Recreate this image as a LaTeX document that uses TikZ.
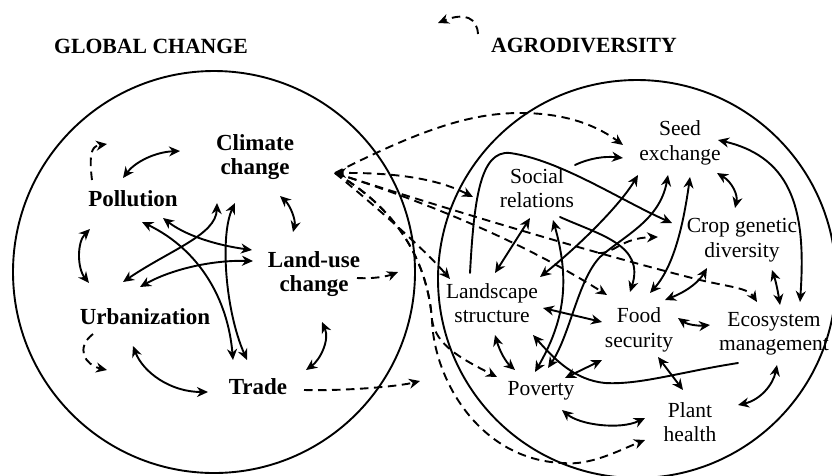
\documentclass[tikz,border=0pt]{standalone}
\usepackage{fontspec}
\setmainfont{Liberation Serif}
\usetikzlibrary{arrows.meta,calc}
\tikzset{
  bnode/.style={font=\bfseries\fontsize{23}{24.5}\selectfont, align=center, inner sep=0pt},
  rnode/.style={font=\fontsize{21.5}{24.5}\selectfont, align=center, inner sep=0pt},
  titletext/.style={font=\bfseries\fontsize{21.7}{24}\selectfont, inner sep=0pt},
  ln/.style={line width=1.9pt, line cap=round},
  tip/.tip={Stealth[length=11pt,width=10pt,inset=3.5pt]},
  uni/.style={ln, -tip},
  bi/.style={ln, tip-tip},
  dsh/.style={ln, line cap=butt, dash pattern=on 8.5pt off 5.5pt, -tip},
}
\begin{document}
\begin{tikzpicture}[x=1pt,y=-1pt]
\useasboundingbox (0,0) rectangle (832,475);
\fill[white] (0,0) rectangle (832,475);
% circles
\draw[line width=1.9pt] (214,272) circle[radius=201pt];
\draw[line width=1.9pt] (637,279) circle[radius=199pt];
% titles
\node[titletext] (gc) at (151,46) {GLOBAL CHANGE};
\node[titletext] (agro) at (584,45) {AGRODIVERSITY};
% left nodes
\node[bnode] (clim) at (255,157) {Climate\\change};
\node[bnode] (poll) at (133,199) {Pollution};
\node[bnode] (land) at (314,274) {Land-use\\change};
\node[bnode] (urb) at (145,317) {Urbanization};
\node[bnode] (trade) at (258,387) {Trade};
% right nodes
\node[rnode] (seed) at (680,143) {Seed\\exchange};
\node[rnode] (soc) at (537,188) {Social\\relations};
\node[rnode] (crop) at (742,240) {Crop genetic\\diversity};
\node[rnode] (landsc) at (492,303) {Landscape\\structure};
\node[rnode] (food) at (639,330) {Food\\security};
\node[rnode] (eco) at (774,334) {Ecosystem\\management};
\node[rnode] (pov) at (541,391) {Poverty};
\node[rnode] (plant) at (690,422) {Plant\\health};
% free coordinates
\coordinate (hub) at (335,173);
\coordinate (lfree) at (398,272);
\coordinate (tfree) at (420,381);
\coordinate (br) at (598,253);
\coordinate (topfree) at (438,23);

% ---- left circle connectors
\draw[dsh] ($(poll)+(-41,-19)$) .. controls (88,148) and (94,146) .. ($(poll)+(-26,-55)$);
\draw[bi] ($(poll)+(-10,-21)$) .. controls (135,162) and (155,152) .. ($(clim)+(-75,-6)$);
\draw[bi] ($(clim)+(25,39)$) .. controls (290,205) and (296,220) .. ($(land)+(-21,-42)$);
\draw[bi] ($(poll)+(-43,30)$) .. controls (77,242) and (77,268) .. ($(urb)+(-56,-34)$);
\draw[bi] ($(poll)+(9,23)$) .. controls (200,250) and (228,300) .. ($(trade)+(-25,-27)$);
\draw[bi] ($(poll)+(30,19)$) .. controls (185,235) and (215,245) .. ($(land)+(-62,-24)$);
\draw[bi] ($(clim)+(-38,46)$) .. controls (216,235) and (170,250) .. ($(urb)+(-22,-35)$);
\draw[bi] ($(clim)+(-20,46)$) .. controls (220,235) and (225,310) .. ($(trade)+(-11,-27)$);
\draw[bi] ($(urb)+(-5,-30)$) .. controls (170,270) and (210,260) .. ($(land)+(-61,-13)$);
\draw[bi] ($(urb)+(-12,29)$) .. controls (143,372) and (170,392) .. ($(trade)+(-50,5)$);
\draw[bi] ($(land)+(8,48)$) .. controls (330,340) and (320,360) .. ($(trade)+(48,-17)$);
\draw[dsh] ($(urb)+(-52,17)$) .. controls (75,348) and (85,365) .. ($(urb)+(-38,53)$);
\draw[dsh] ($(land)+(43,4)$) .. controls (375,279) and (388,276) .. (lfree);
\draw[dsh] ($(trade)+(46,3)$) .. controls (350,391) and (400,386) .. (tfree);

% ---- hub dashed connectors
\draw[ln, -tip] ($(hub)+(7,0)$) -- (hub);
\draw[dsh] (hub) .. controls (420,130) and (470,113) .. (520,113) .. controls (570,113) and (600,128) .. ($(seed)+(-57,2)$);
\draw[dsh] (hub) .. controls (400,172) and (440,180) .. ($(soc)+(-64,9)$);
\draw[dsh] (hub) .. controls (450,210) and (600,255) .. (700,280) .. controls (730,287) and (748,288) .. ($(eco)+(-17,-32)$);
\draw[dsh] (hub) .. controls (420,200) and (520,240) .. ($(food)+(-32,-35)$);
\draw[dsh] (br) .. controls (615,254) and (620,238) .. ($(crop)+(-84,-3)$);
\draw[dsh] (hub) .. controls (380,210) and (425,250) .. ($(landsc)+(-42,-24)$);
\draw[dsh] (hub) .. controls (400,210) and (428,265) .. (432,320) .. controls (434,380) and (480,460) .. (563,463) .. controls (590,466) and (620,450) .. ($(plant)+(-45,18)$);
\draw[dsh] (hub) .. controls (400,210) and (428,265) .. (432,320) .. controls (436,345) and (460,358) .. ($(pov)+(-44,-14)$);
\draw[dsh] ($(agro)+(-106,-11)$) .. controls (477,18) and (465,12) .. (topfree);

% ---- right circle connectors
\draw[uni] ($(landsc)+(-22,-30)$) .. controls (474,200) and (480,150) .. (510,153) .. controls (560,160) and (620,200) .. ($(crop)+(-70,-17)$);
\draw[uni] ($(soc)+(38,-23)$) .. controls (590,158) and (605,156) .. ($(seed)+(-57,15)$);
\draw[bi] ($(soc)+(-7,30)$) -- ($(landsc)+(3,-30)$);
\draw[bi] ($(landsc)+(48,-26)$) .. controls (580,245) and (620,205) .. ($(seed)+(-42,32)$);
\draw[bi] ($(pov)+(7,-23)$) .. controls (570,335) and (578,280) .. (600,257) .. controls (625,235) and (660,220) .. ($(seed)+(-12,32)$);
\draw[bi] ($(pov)+(-6,-19)$) .. controls (565,320) and (570,280) .. ($(soc)+(16,32)$);
\draw[bi] ($(seed)+(10,34)$) .. controls (684,220) and (675,265) .. ($(food)+(11,-37)$);
\draw[uni] ($(soc)+(23,29)$) .. controls (600,235) and (645,245) .. ($(food)+(-9,-38)$);
\draw[bi] ($(seed)+(37,30)$) .. controls (732,182) and (738,195) .. ($(crop)+(-7,-32)$);
\draw[bi] ($(eco)+(26,-32)$) .. controls (806,215) and (795,158) .. ($(seed)+(38,-3)$);
\draw[bi] ($(crop)+(30,30)$) .. controls (776,282) and (778,292) .. ($(eco)+(6,-29)$);
\draw[bi] ($(crop)+(-35,28)$) .. controls (700,280) and (690,290) .. ($(food)+(26,-30)$);
\draw[bi] ($(food)+(39,-12)$) .. controls (688,325) and (700,326) .. ($(eco)+(-64,-9)$);
\draw[bi] ($(landsc)+(51,5)$) -- ($(food)+(-37,-8)$);
\draw[bi] ($(landsc)+(3,32)$) .. controls (500,352) and (506,362) .. ($(pov)+(-26,-21)$);
\draw[uni] ($(eco)+(-36,29)$) .. controls (680,372) and (640,385) .. (605,383) .. controls (575,380) and (555,360) .. ($(landsc)+(41,32)$);
\draw[bi] ($(food)+(-37,30)$) -- ($(pov)+(24,-13)$);
\draw[bi] ($(food)+(19,27)$) -- ($(plant)+(-7,-32)$);
\draw[bi] ($(eco)+(3,31)$) .. controls (773,385) and (760,400) .. ($(plant)+(48,-17)$);
\draw[bi] ($(pov)+(21,19)$) .. controls (580,425) and (620,430) .. ($(plant)+(-45,-4)$);
\end{tikzpicture}
\end{document}
